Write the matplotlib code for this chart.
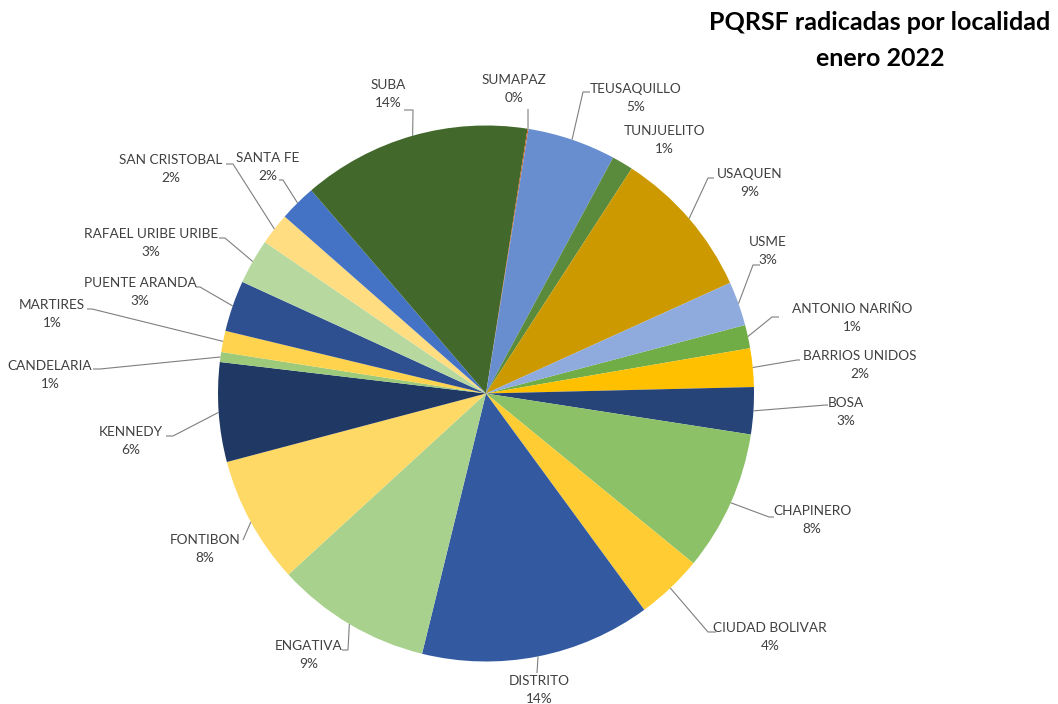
import numpy as np
import matplotlib
matplotlib.use("Agg")
import matplotlib.pyplot as plt

plt.rcParams['font.family'] = ['Lato', 'DejaVu Sans']

# data (share of PQRSF, %), in the order Excel draws them
localidades = ['ANTONIO NARIÑO', 'BARRIOS UNIDOS', 'BOSA', 'CHAPINERO', 'CIUDAD BOLIVAR',
               'DISTRITO', 'ENGATIVA', 'FONTIBON', 'KENNEDY', 'CANDELARIA', 'MARTIRES',
               'PUENTE ARANDA', 'RAFAEL URIBE URIBE', 'SAN CRISTOBAL', 'SANTA FE', 'SUBA',
               'SUMAPAZ', 'TEUSAQUILLO', 'TUNJUELITO', 'USAQUEN', 'USME']
valores = [1.41, 2.32, 2.83, 8.47, 4.03,
           13.89, 9.36, 7.69, 5.99, 0.60, 1.28,
           3.08, 2.72, 1.92, 2.22, 13.78,
           0.06, 5.33, 1.28, 9.08, 2.66]
colores = ['#70AD47', '#FFC000', '#264478', '#8CC168', '#FFCD33',
           '#335AA1', '#A9D18E', '#FFD965', '#203864', '#9DC97B', '#FFD34D',
           '#2E5090', '#B7D9A0', '#FFDD80', '#4472C4', '#43682B',
           '#C55A11', '#698ED0', '#5A8A3C', '#CC9A00', '#8FAADC']

# label layout in pixel coords: text centre (x, y of name line), leader elbow, leader end
label_pos = {
    'ANTONIO NARIÑO': ((852, 309), (772, 317), (779, 317)),
    'BARRIOS UNIDOS': ((860, 356), (797, 360), (800, 360)),
    'BOSA': ((846, 403), (826, 405), (828, 405)),
    'CHAPINERO': ((812, 511), (769, 517), (774, 517)),
    'CIUDAD BOLIVAR': ((770, 628), (708, 632), (716, 632)),
    'DISTRITO': ((539, 681), (537, 673), (537, 673)),
    'ENGATIVA': ((309, 646), (348, 650), (342, 650)),
    'FONTIBON': ((205, 540), (243, 540), (243, 540)),
    'KENNEDY': ((131, 432), (173, 436), (166, 436)),
    'CANDELARIA': ((50, 366), (100, 369), (93, 369)),
    'MARTIRES': ((52, 305), (92, 309), (87, 309)),
    'PUENTE ARANDA': ((140, 283), (200, 287), (196, 287)),
    'RAFAEL URIBE URIBE': ((151, 234), (225, 238), (219, 238)),
    'SAN CRISTOBAL': ((171, 160), (233, 164), (226, 164)),
    'SANTA FE': ((268, 158), (283, 180), (279, 180)),
    'SUBA': ((388, 85), (413, 110), (404, 110)),
    'SUMAPAZ': ((514, 80), (528, 109), (528, 109)),
    'TEUSAQUILLO': ((636, 89), (583, 92), (590, 92)),
    'TUNJUELITO': ((664, 131), None, None),
    'USAQUEN': ((750, 174), (708, 178), (714, 178)),
    'USME': ((768, 242), (753, 265), (760, 265)),
}

W, H = 1058, 704
cx, cy, r = 486, H - 393.5, 268

fig = plt.figure(figsize=(W / 100, H / 100), dpi=100)
ax = fig.add_axes([0, 0, 1, 1])

start_deg = 75.19  # clockwise from 12 o'clock where ANTONIO NARIÑO begins
wedges, _ = ax.pie(valores, colors=colores, startangle=90 - start_deg, counterclock=False,
                   center=(cx, cy), radius=r, wedgeprops=dict(linewidth=0))
ax.set_xlim(0, W)
ax.set_ylim(0, H)
ax.set_aspect('equal')
ax.axis('off')

total = sum(valores)
for w, name, v in zip(wedges, localidades, valores):
    pct = f"{round(100 * v / total):.0f}%"
    (tx, ty), elbow, end = label_pos[name]
    ax.text(tx, H - ty, name, ha='center', va='center', fontsize=9.8, color='#404040')
    ax.text(tx, H - ty - 18, pct, ha='center', va='center', fontsize=9.8, color='#404040')
    if elbow is None:
        continue
    mid = np.deg2rad((w.theta1 + w.theta2) / 2)
    sx, sy = cx + r * np.cos(mid), cy + r * np.sin(mid)
    ax.plot([sx, elbow[0], end[0]], [sy, H - elbow[1], H - end[1]],
            color='#7F7F7F', lw=0.8, solid_capstyle='butt')

ax.text(880, H - 23, 'PQRSF radicadas por localidad', ha='center', va='center',
        fontsize=18, fontweight='bold', color='black')
ax.text(880, H - 58, 'enero 2022', ha='center', va='center',
        fontsize=18, fontweight='bold', color='black')

fig.savefig('out.png', dpi=100)
